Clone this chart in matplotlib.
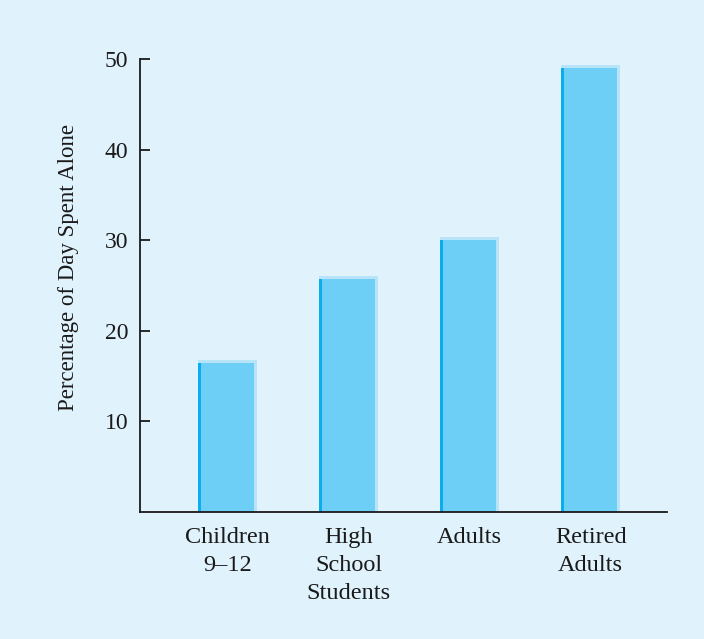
import matplotlib
matplotlib.use("Agg")
import matplotlib.pyplot as plt
import numpy as np

categories = ["Children\n9\u201312", "High\nSchool\nStudents", "Adults", "Retired\nAdults"]
values = [16.8, 26.0, 30.4, 49.3]
yticks = [10, 20, 30, 40, 50]

bg = "#e0f2fc"
fill = "#6dcff6"
dark = "#0aaeee"
light = "#b8e4f9"

plt.rcParams["font.family"] = ["Liberation Serif", "DejaVu Serif"]

fig = plt.figure(figsize=(7.04, 6.39), dpi=100, facecolor=bg)
ax = fig.add_axes([0.1989, 0.1987, 0.7485, 0.709])
ax.set_facecolor(bg)

x = np.arange(len(categories))
width = 0.49
ax.set_xlim(-0.725, 3.63)
ax.set_ylim(0, 50)

# stripe sizes in data units, derived from the axes pixel extent
bbox = ax.get_window_extent()
sx = 3 * (3.63 + 0.725) / bbox.width
sy = 3 * 50 / bbox.height

# light frame (right edge and top), main fill, dark left edge
ax.bar(x, values, width=width, color=light, linewidth=0, zorder=2)
ax.bar(x - sx / 2, np.array(values) - sy, width=width - sx, color=fill, linewidth=0, zorder=3)
ax.bar(x - width / 2 + sx / 2, np.array(values) - sy, width=sx, color=dark, linewidth=0, zorder=4)

ax.spines["top"].set_visible(False)
ax.spines["right"].set_visible(False)
ax.spines["left"].set_bounds(0, 50)
for s in ("left", "bottom"):
    ax.spines[s].set_linewidth(1.3)
    ax.spines[s].set_color("#1a1a1a")
    ax.spines[s].set_zorder(5)

ax.set_yticks(yticks)
ax.set_yticklabels([str(v) for v in yticks], fontsize=17)
ax.tick_params(axis="y", direction="in", length=7, width=1.3, pad=8.5, colors="#1a1a1a")
ax.set_xticks(x)
ax.set_xticklabels(categories, fontsize=17.5, linespacing=1.45)
ax.tick_params(axis="x", length=0, pad=10.5, colors="#1a1a1a")

ax.set_ylabel("Percentage of Day Spent Alone", fontsize=16.5, color="#1a1a1a")
ax.yaxis.set_label_coords(-0.115, 0.54)

fig.savefig("out.png", dpi=100, facecolor=bg)
